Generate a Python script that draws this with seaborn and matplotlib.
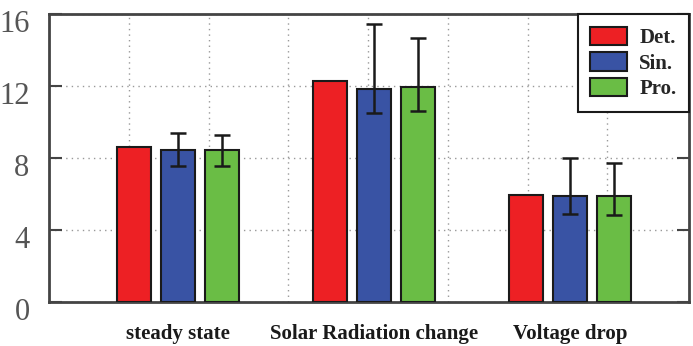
import numpy as np
import pandas as pd
import seaborn as sns
import matplotlib.pyplot as plt
import matplotlib.transforms as mtransforms

# data
scenarios = ["steady state", "Solar Radiation change", "Voltage drop"]
methods = ["Det.", "Sin.", "Pro."]
det_vals = [8.59, 12.28, 5.96]
sin_vals = [8.44, 11.83, 5.87]
pro_vals = [8.44, 11.96, 5.87]
sin_err_lo = [0.90, 1.31, 1.00]
sin_err_hi = [0.95, 3.61, 2.15]
pro_err_lo = [0.90, 1.35, 1.04]
pro_err_hi = [0.86, 2.71, 1.85]
colors = ["#ED2024", "#3953A4", "#6ABD45"]

df = pd.DataFrame({
    "scenario": scenarios * 3,
    "method": np.repeat(methods, 3),
    "value": det_vals + sin_vals + pro_vals,
})

sns.set_style("white")
plt.rcParams["font.family"] = ["Liberation Serif", "DejaVu Serif"]

fig = plt.figure(figsize=(6.93, 3.46), dpi=100)
ax = fig.add_axes([0.0707, 0.1272, 0.9235, 0.8323])

sns.barplot(
    data=df, x="scenario", y="value", hue="method",
    palette=colors, saturation=1, width=0.673, gap=0.23,
    edgecolor="#1a1a1a", linewidth=1.5, ax=ax, zorder=3,
)

# asymmetric error bars on Sin. and Pro.
for cont, lo, hi in [(ax.containers[1], sin_err_lo, sin_err_hi),
                     (ax.containers[2], pro_err_lo, pro_err_hi)]:
    xs = [b.get_x() + b.get_width() / 2 for b in cont]
    ys = [b.get_height() for b in cont]
    ax.errorbar(xs, ys, yerr=[lo, hi], fmt="none", ecolor="#1a1a1a",
                elinewidth=1.8, capsize=6, capthick=1.8, zorder=4)

ax.set_xlim(-0.658, 2.607)
ax.set_ylim(0, 16)
ax.set_yticks([0, 4, 8, 12, 16])
ax.set_xlabel("")
ax.set_ylabel("")

# dotted grid
ax.set_axisbelow(True)
ax.set_xticks(np.linspace(-0.25, 2.19, 7), minor=True)
ax.grid(False)
ax.grid(True, axis="x", which="minor", linestyle=(0, (1, 3)), color="#999999", linewidth=1.0)
ax.grid(True, axis="y", which="major", linestyle=(0, (1, 3)), color="#999999", linewidth=1.0)

ax.tick_params(axis="y", which="major", direction="in", length=9, width=1.5,
               left=True, right=True, color="#444444", labelsize=22,
               labelcolor="#555555", pad=14)
ax.tick_params(axis="x", which="both", length=0)
ax.tick_params(axis="x", which="major", pad=16)
for lab in ax.get_xticklabels():
    lab.set_fontsize(15)
    lab.set_fontweight("bold")
    lab.set_color("#1a1a1a")
shift = mtransforms.ScaledTranslation(0, -7 / 100, fig.dpi_scale_trans)
for lab in ax.get_yticklabels():
    lab.set_transform(lab.get_transform() + shift)

for sp in ax.spines.values():
    sp.set_color("#444444")
    sp.set_linewidth(2)
    sp.set_visible(True)

leg = ax.legend(loc="upper right", borderaxespad=0, fancybox=False,
                prop={"weight": "bold", "size": 15}, handlelength=1.75,
                handleheight=1.0, labelspacing=0.2, handletextpad=0.6,
                borderpad=0.6, edgecolor="#1a1a1a", framealpha=1)
leg.get_frame().set_linewidth(1.5)

fig.savefig("out.png", dpi=100)
